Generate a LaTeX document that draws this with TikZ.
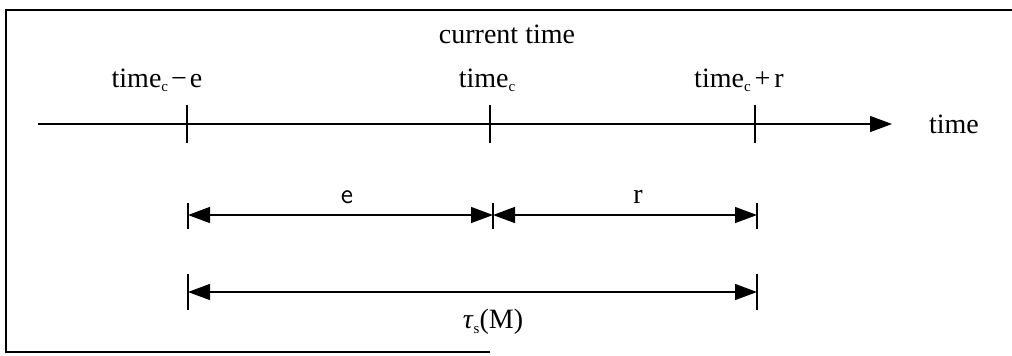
\documentclass[tikz,border=0pt]{standalone}
\usepackage{fontspec}
\setmainfont{Liberation Serif}
\usetikzlibrary{arrows.meta}
\newcommand{\smallsub}[1]{\raisebox{-2.2pt}{\fontsize{7.5}{8}\selectfont #1}}
\begin{document}
\begin{tikzpicture}[x=0.5pt,y=-0.5pt,
  font=\fontsize{14}{17}\selectfont,
  frame/.style={line width=1pt},
  axis/.style={line width=0.7pt},
  tick/.style={line width=0.7pt},
  tip/.tip={Triangle[length=11pt,width=8pt]},
  dim/.style={line width=0.7pt,tip-tip},
  lbl/.style={inner sep=1pt}]
\useasboundingbox (0,0) rectangle (1012,355);
% frame (right side outside the picture)
\draw[frame] (1030,10) -- (6,10) -- (6,352) -- (490,352);
% axis points
\coordinate (a0) at (38,124);
\coordinate (a1) at (892,124);
\coordinate (t1) at (187,124);
\coordinate (t2) at (490,124);
\coordinate (t3) at (755,124);
\draw[axis,-tip] (a0) -- (a1);
\foreach \p in {t1,t2,t3} \draw[tick] (\p) ++(0,-19) -- ++(0,38);
\node[lbl] (tm) at (507,34) {current time};
\node[lbl] (l1) at (157,80) {time\smallsub{c}\kern1.5pt−\kern1.5pt e};
\node[lbl] (l2) at (487,80) {time\smallsub{c}};
\node[lbl] (l3) at (739,80) {time\smallsub{c}\kern2pt+\kern2pt r};
\node[lbl] (tx) at (954,124) {time};
% first dimension row
\coordinate (d1) at (188,215);
\coordinate (d2) at (493,215);
\coordinate (d3) at (757,215);
\foreach \p in {d1,d2,d3} \draw[tick] (\p) ++(0,-12) -- ++(0,26);
\draw[dim] (d1) -- (d2);
\draw[dim] (d2) -- (d3);
\node[lbl,font=\fontsize{14}{17}\selectfont\sffamily] (le) at (347,197) {e};
\node[lbl] (lr) at (638,197) {r};
% second dimension row
\coordinate (e1) at (188,292);
\coordinate (e2) at (757,292);
\foreach \p in {e1,e2} \draw[tick] (\p) ++(0,-18) -- ++(0,36);
\draw[dim] (e1) -- (e2);
\node[lbl] (lt) at (493,322) {\textit{τ}\smallsub{s}(M)};
\end{tikzpicture}
\end{document}
